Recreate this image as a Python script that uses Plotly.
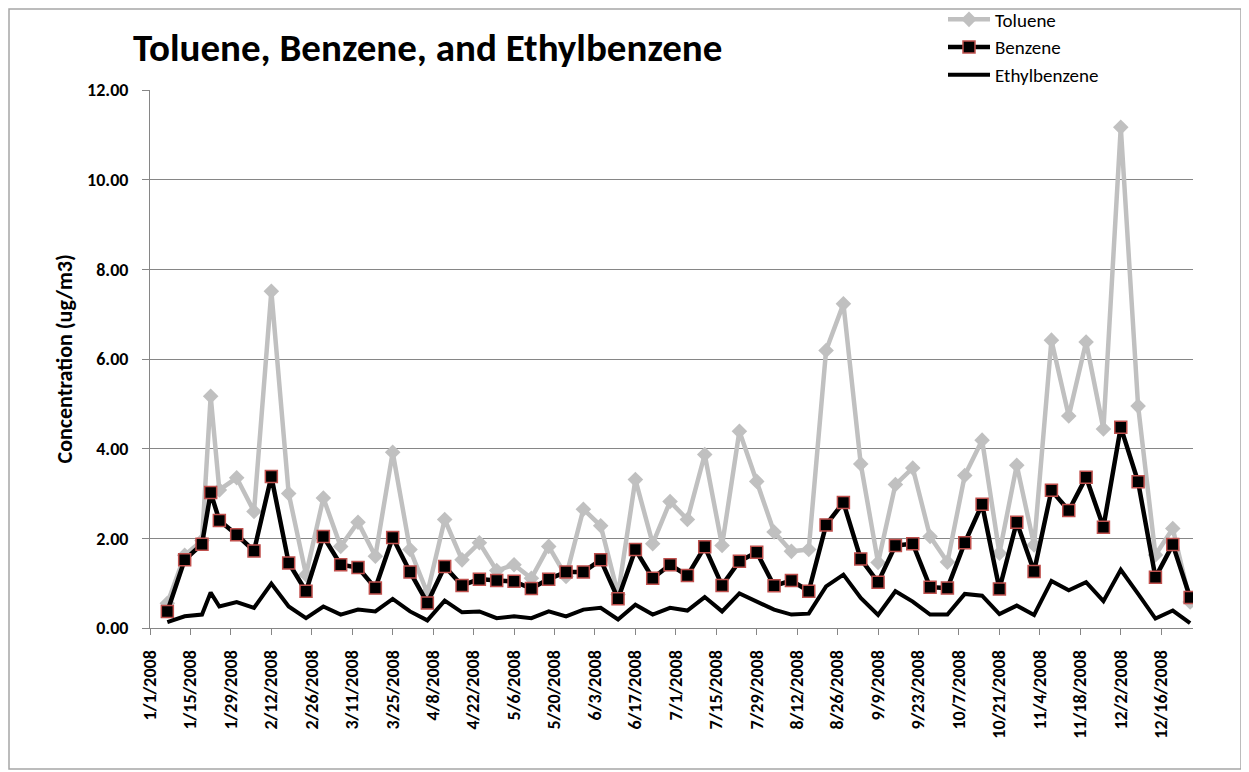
import plotly.graph_objects as go

# sample dates (1-in-6 schedule plus one make-up day on 1/22)
dates = ["2008-01-07", "2008-01-13", "2008-01-19", "2008-01-22", "2008-01-25", "2008-01-31",
         "2008-02-06", "2008-02-12", "2008-02-18", "2008-02-24", "2008-03-01", "2008-03-07",
         "2008-03-13", "2008-03-19", "2008-03-25", "2008-03-31", "2008-04-06", "2008-04-12",
         "2008-04-18", "2008-04-24", "2008-04-30", "2008-05-06", "2008-05-12", "2008-05-18",
         "2008-05-24", "2008-05-30", "2008-06-05", "2008-06-11", "2008-06-17", "2008-06-23",
         "2008-06-29", "2008-07-05", "2008-07-11", "2008-07-17", "2008-07-23", "2008-07-29",
         "2008-08-04", "2008-08-10", "2008-08-16", "2008-08-22", "2008-08-28", "2008-09-03",
         "2008-09-09", "2008-09-15", "2008-09-21", "2008-09-27", "2008-10-03", "2008-10-09",
         "2008-10-15", "2008-10-21", "2008-10-27", "2008-11-02", "2008-11-08", "2008-11-14",
         "2008-11-20", "2008-11-26", "2008-12-02", "2008-12-08", "2008-12-14", "2008-12-20",
         "2008-12-26"]

toluene = [0.55, 1.62, 1.95, 5.17, 3.08, 3.35, 2.60, 7.51, 3.00, 1.19, 2.90, 1.82, 2.36, 1.60,
           3.92, 1.75, 0.78, 2.42, 1.52, 1.90, 1.28, 1.41, 1.11, 1.82, 1.15, 2.65, 2.28, 0.75,
           3.31, 1.88, 2.82, 2.42, 3.87, 1.84, 4.39, 3.27, 2.14, 1.71, 1.75, 6.19, 7.23, 3.66,
           1.46, 3.20, 3.57, 2.04, 1.47, 3.40, 4.19, 1.67, 3.63, 1.85, 6.42, 4.73, 6.38, 4.44,
           11.17, 4.95, 1.63, 2.22, 0.58]

benzene = [0.37, 1.52, 1.87, 3.02, 2.40, 2.08, 1.72, 3.38, 1.45, 0.82, 2.04, 1.41, 1.35, 0.89,
           2.02, 1.25, 0.56, 1.37, 0.95, 1.09, 1.06, 1.04, 0.88, 1.09, 1.25, 1.25, 1.52, 0.65,
           1.75, 1.11, 1.41, 1.17, 1.81, 0.95, 1.49, 1.69, 0.94, 1.06, 0.82, 2.30, 2.80, 1.54,
           1.02, 1.84, 1.88, 0.91, 0.89, 1.90, 2.76, 0.87, 2.36, 1.26, 3.07, 2.62, 3.36, 2.25,
           4.48, 3.26, 1.13, 1.86, 0.68]

ethylbenzene = [0.13, 0.26, 0.30, 0.79, 0.48, 0.58, 0.45, 0.99, 0.48, 0.22, 0.48, 0.30, 0.41, 0.37,
                0.65, 0.37, 0.17, 0.61, 0.35, 0.37, 0.22, 0.26, 0.22, 0.37, 0.26, 0.41, 0.45, 0.19,
                0.52, 0.30, 0.45, 0.39, 0.69, 0.37, 0.77, 0.59, 0.41, 0.30, 0.32, 0.93, 1.19, 0.67,
                0.29, 0.82, 0.59, 0.30, 0.30, 0.76, 0.72, 0.31, 0.50, 0.29, 1.05, 0.84, 1.02, 0.60,
                1.30, 0.76, 0.21, 0.39, 0.11]

FONT = "Calibri, Carlito, Lato, sans-serif"
GRID = "#868686"

fig = go.Figure()
fig.add_trace(go.Scatter(x=dates, y=toluene, name="Toluene", mode="lines+markers",
                         line=dict(color="#C0C0C0", width=4.5),
                         marker=dict(symbol="diamond", size=12, color="#C0C0C0")))
fig.add_trace(go.Scatter(x=dates, y=benzene, name="Benzene", mode="lines+markers",
                         line=dict(color="black", width=4.5),
                         marker=dict(symbol="square", size=12, color="black",
                                     line=dict(color="#C0504D", width=1.5))))
fig.add_trace(go.Scatter(x=dates, y=ethylbenzene, name="Ethylbenzene", mode="lines",
                         line=dict(color="black", width=4)))

# the page body adds an 8px offset, so layout is laid out in page pixels minus OFF
OFF = 8
W, H = 1249, 772
L, T = 150 - OFF, 90 - OFF
pw, ph = 1043, 538
R, B = W - L - pw, H - T - ph

def px(x):  # page x -> paper x
    return (x - OFF - L) / pw

def py(y):  # page y -> paper y
    return (T + ph - (y - OFF)) / ph

fig.update_layout(
    width=W, height=H,
    margin=dict(l=L, r=R, t=T, b=B, autoexpand=False),
    paper_bgcolor="white", plot_bgcolor="white",
    font=dict(family=FONT, color="black"),
    title=dict(text="<b>Toluene, Benzene, and Ethylbenzene</b>", font=dict(size=39, family=FONT),
               x=(133 - OFF) / W, xanchor="left", xref="container",
               y=1 - (47 - OFF) / H, yanchor="middle", yref="container"),
    showlegend=True,
    legend=dict(x=px(943), y=py(0.5), xanchor="left", yanchor="top",
                font=dict(size=19, family=FONT), bgcolor="rgba(0,0,0,0)",
                itemwidth=42, tracegroupgap=0),
    xaxis=dict(type="date", range=["2008-01-01", "2008-12-27"],
               tick0="2008-01-01", dtick=14 * 86400000, tickformat="%-m/%-d/%Y",
               tickangle=-90, tickfont=dict(size=18, family=FONT, weight="bold"),
               showgrid=False, showline=True, linecolor=GRID, linewidth=1,
               ticks="outside", ticklen=6, tickcolor=GRID, ticklabelstandoff=8,
               automargin=False),
    yaxis=dict(range=[0, 12], dtick=2, tickformat=".2f",
               tickfont=dict(size=18, family=FONT, weight="bold"),
               showgrid=True, gridcolor=GRID, gridwidth=1, zeroline=False,
               showline=True, linecolor=GRID, linewidth=1,
               ticks="outside", ticklen=7, tickcolor=GRID, ticklabelstandoff=10,
               automargin=False),
    annotations=[dict(text="<b>Concentration (ug/m3)</b>", textangle=-90,
                      x=px(48), y=0.5, xref="paper", yref="paper",
                      showarrow=False, font=dict(size=22, family=FONT))],
    shapes=[dict(type="rect", xref="paper", yref="paper",
                 x0=px(9), x1=px(1241), y0=py(769), y1=py(9),
                 line=dict(color="#A6A6A6", width=1.5), layer="below")],
)

fig.write_html("out.html")
